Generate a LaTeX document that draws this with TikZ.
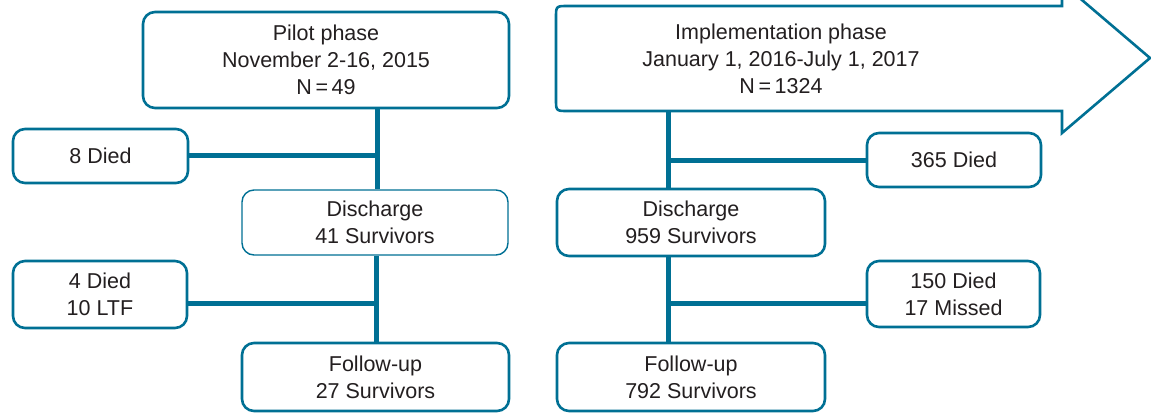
\documentclass[tikz,border=0pt]{standalone}
\usepackage{fontspec}
\setmainfont{Liberation Sans}
\definecolor{teal1}{RGB}{0,112,148}
\definecolor{txt}{RGB}{35,31,32}
\begin{document}
\begin{tikzpicture}[x=1pt,y=-1pt,
  box/.style={draw=teal1, line width=2.6pt, rounded corners=12pt, inner sep=0pt,
    align=center, text=txt, font=\fontsize{21.5}{27}\selectfont, fill=white},
  thinbox/.style={box, line width=1.4pt},
  conn/.style={draw=teal1, line width=5pt},
  lbl/.style={inner sep=0pt, align=center, text=txt, font=\fontsize{21.5}{27}\selectfont}]
\useasboundingbox (0,0) rectangle (1151,413);
\clip (0,0) rectangle (1151,413);
% junction coordinates
\coordinate (xl) at (377,0);
\coordinate (xr) at (668,0);
\coordinate (j1) at (377,155);
\coordinate (j2) at (376,303);
\coordinate (j3) at (668,160);
\coordinate (j4) at (668,303);
% implementation arrow shape
\draw[draw=teal1, line width=2.6pt, line join=miter, fill=white]
  (1062,111) -- (568,111) .. controls (556,111) .. (556,99) -- (556,18)
  .. controls (556,6) .. (568,6) -- (1062,6) -- (1062,-17) -- (1150,58) -- (1062,133) -- cycle;
\node[inner sep=0pt, minimum width=506pt, minimum height=105pt] (impl) at (809,58.5) {};
\node[lbl] (impltext) at (781,59) {Implementation phase\\January 1, 2016-July 1, 2017\\N\,=\,1324};
% left column nodes
\node[box, minimum width=366pt, minimum height=96pt] (pilot) at (326,60) {Pilot phase\\November 2-16, 2015\\N\,=\,49};
\node[box, minimum width=175pt, minimum height=54pt] (died1) at (100.5,156) {8 Died};
\node[thinbox, minimum width=266pt, minimum height=65pt] (dis1) at (375,222.5) {Discharge\\41 Survivors};
\node[box, minimum width=174pt, minimum height=67pt] (died2) at (100,294.5) {4 Died\\10 LTF};
\node[box, minimum width=267pt, minimum height=68pt] (fu1) at (375.5,377) {Follow-up\\27 Survivors};
% right column nodes
\node[box, minimum width=174pt, minimum height=54pt] (died3) at (954,160) {365 Died};
\node[box, minimum width=268pt, minimum height=67pt] (dis2) at (691,222.5) {Discharge\\959 Survivors};
\node[box, minimum width=173pt, minimum height=66pt] (died4) at (953.5,294) {150 Died\\17 Missed};
\node[box, minimum width=268pt, minimum height=68pt] (fu2) at (691,377) {Follow-up\\792 Survivors};
% connectors left
\begin{scope}[on background layer/.style={}]
\end{scope}
\draw[conn] (pilot.south -| xl) -- (dis1.north -| xl);
\draw[conn] (died1.east |- j1) -- (j1);
\draw[conn] (dis1.south -| j2) -- (fu1.north -| j2);
\draw[conn] (died2.east |- j2) -- (j2);
% connectors right
\draw[conn] (impl.south -| xr) -- (dis2.north -| xr);
\draw[conn] (j3) -- (died3.west |- j3);
\draw[conn] (dis2.south -| xr) -- (fu2.north -| xr);
\draw[conn] (j4) -- (died4.west |- j4);
\end{tikzpicture}
\end{document}
